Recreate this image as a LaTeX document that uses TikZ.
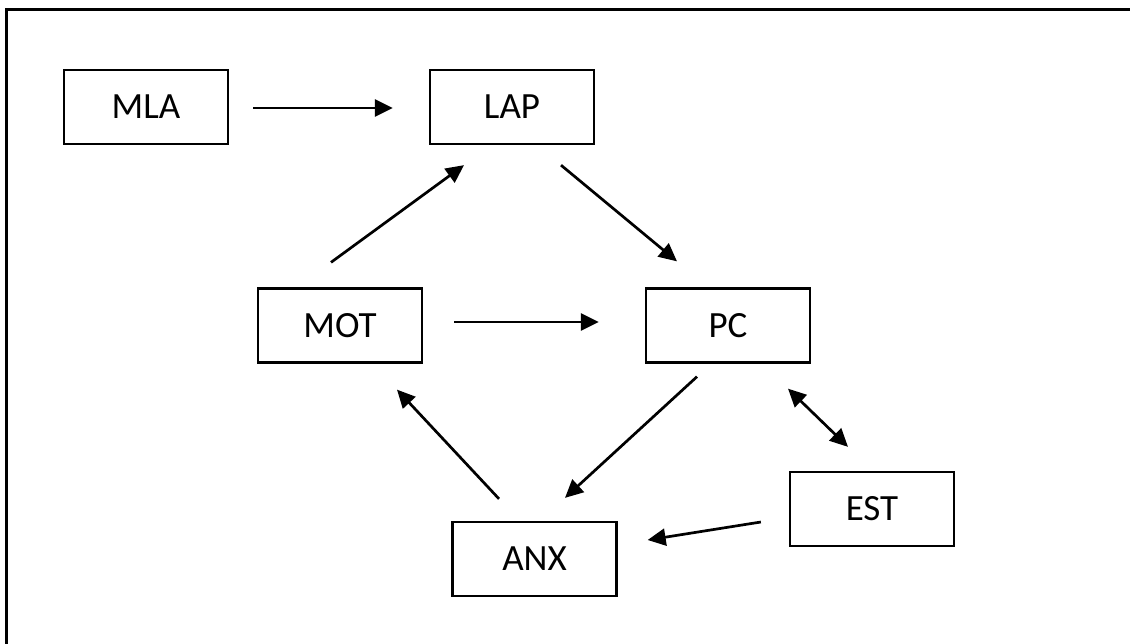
\documentclass[tikz,border=0pt]{standalone}
\usepackage{fontspec}
\setmainfont{Carlito}
\usetikzlibrary{calc,arrows.meta}
\begin{document}
\begin{tikzpicture}[x=1pt,y=-1pt,
  box/.style={draw, line width=2.3pt, minimum width=164pt, minimum height=74pt,
    inner sep=0pt, font=\fontsize{37}{42}\selectfont},
  conn/.style={line width=2.7pt, -{Triangle[length=18pt,width=17pt]}},
  biconn/.style={line width=2.7pt, {Triangle[length=18pt,width=17pt]}-{Triangle[length=18pt,width=17pt]}}]
  \useasboundingbox (0,0) rectangle (1130,643);
  % outer frame, running off the right and bottom edges
  \draw[line width=3pt] (1140,9) -- (6.5,9) -- (6.5,660);

  \node[box] (MLA) at (146,107) {MLA};
  \node[box] (LAP) at (512,107) {LAP};
  \node[box] (MOT) at (340,325.5) {MOT};
  \node[box] (PC)  at (728,325.5) {PC};
  \node[box] (EST) at (872,509) {EST};
  \node[box] (ANX) at (534.5,559) {ANX};

  \draw[conn] ($(MLA.east)+(24,1)$) -- ($(LAP.west)+(-36,1)$);
  \draw[conn] ($(MOT.north)+(-9,-25)$) -- ($(LAP.south)+(-48,20)$);
  \draw[conn] ($(LAP.south)+(49,20)$) -- ($(PC.north)+(-51,-26)$);
  \draw[conn] ($(MOT.east)+(31,-3.5)$) -- ($(PC.west)+(-46,-3.5)$);
  \draw[conn] ($(PC.south)+(-31,13)$) -- ($(ANX.north)+(30.5,-23)$);
  \draw[conn] ($(ANX.north)+(-35.5,-22)$) -- ($(MOT.south)+(57,26)$);
  \draw[conn] ($(EST.west)+(-28,13)$) -- ($(ANX.east)+(30,-19)$);
  \draw[biconn] ($(PC.south)+(60,25)$) -- ($(EST.north)+(-24,-24)$);
\end{tikzpicture}
\end{document}
